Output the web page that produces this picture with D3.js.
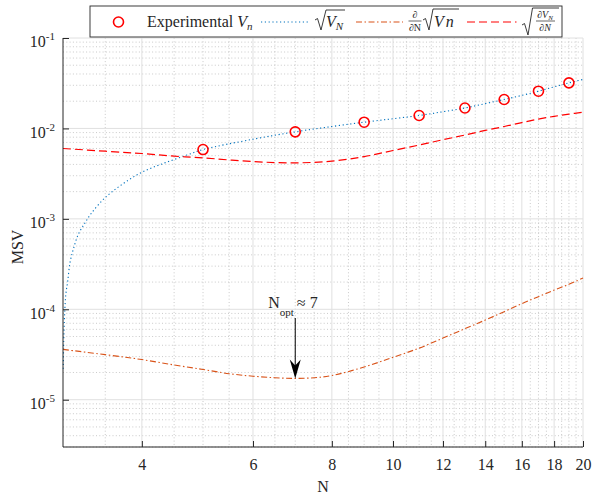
<!DOCTYPE html>
<html>
<head>
<meta charset="utf-8">
<script src="https://cdn.jsdelivr.net/npm/d3@7"></script>
<style>
  body { margin: 0; background: #fff; }
  svg text { font-family: "Liberation Serif", "DejaVu Serif", serif; fill: #262626; }
</style>
</head>
<body>
<div id="container"></div>
<script>
// Experimental points
const expN = [5, 7, 9, 11, 13, 15, 17, 19];
const expV = [5.84e-3, 9.17e-3, 0.01172, 0.0139, 0.01683, 0.0209, 0.0258, 0.0319];

// sqrt(V_N) curve
const sqrtN = [3.003, 3.008, 3.015, 3.022, 3.033, 3.052, 3.077, 3.114, 3.171, 3.251, 3.331, 3.497, 3.717, 4, 4.35, 4.74, 5, 6, 7, 8, 9, 10, 11, 12, 13, 14, 15, 16, 17, 18, 19, 20];
const sqrtV = [2.2e-5, 4.5e-5, 7.5e-5, 1.08e-4, 1.52e-4, 2.04e-4, 3.26e-4, 4.57e-4, 6.7e-4, 9.03e-4, 1.165e-3, 1.71e-3, 2.39e-3, 3.28e-3, 4.16e-3, 5.14e-3, 5.84e-3, 7.6e-3, 9.17e-3, 0.0105, 0.01172, 0.0128, 0.0139, 0.0153, 0.01683, 0.0188, 0.0209, 0.0232, 0.0258, 0.0288, 0.0319, 0.0348];

// d/dN sqrt(Vn) curve
const derN = [3, 3.5, 4, 4.5, 5, 5.5, 6, 6.5, 7, 7.5, 8, 9, 10, 11, 12, 13, 14, 15, 16, 17, 18, 19, 20];
const derV = [3.6e-5, 3.15e-5, 2.78e-5, 2.42e-5, 2.16e-5, 1.94e-5, 1.82e-5, 1.75e-5, 1.72e-5, 1.75e-5, 1.85e-5, 2.3e-5, 2.94e-5, 3.72e-5, 4.8e-5, 6.1e-5, 7.6e-5, 9.4e-5, 1.156e-4, 1.38e-4, 1.63e-4, 1.89e-4, 2.22e-4];

// sqrt(dV_N/dN) curve
const rootN = [3, 3.5, 4, 4.5, 5, 6, 7, 8, 9, 10, 11, 12, 13, 14, 15, 16, 17, 18, 19, 20];
const rootV = [6.0e-3, 5.6e-3, 5.28e-3, 4.93e-3, 4.72e-3, 4.3e-3, 4.16e-3, 4.35e-3, 4.88e-3, 5.7e-3, 6.55e-3, 7.5e-3, 8.45e-3, 9.5e-3, 0.0105, 0.0116, 0.0127, 0.0136, 0.0144, 0.0151];

// ticks
const xMajor = [4, 6, 8, 10, 12, 14, 16, 18, 20];
const xMinor = d3.range(3.5, 20, 0.5).filter(v => !xMajor.includes(v));
const yMajor = [1e-5, 1e-4, 1e-3, 1e-2, 1e-1];
const yMinor = [];
for (let k = -6; k <= -2; k++) {
  for (let m = 2; m <= 9; m++) {
    const v = m * Math.pow(10, k);
    if (v >= 3e-6 && v < 0.1) yMinor.push(v);
  }
}

const width = 592;
const height = 500;
const marginTop = 38;
const marginRight = 9;
const marginBottom = 53;
const marginLeft = 63;

const x = d3.scaleLog().domain([3, 20]).range([marginLeft, width - marginRight]);
const y = d3.scaleLog().domain([3e-6, 0.1]).range([height - marginBottom, marginTop]);

const svg = d3.create("svg").attr("width", width).attr("height", height);

// grid
const grid = svg.append("g");
grid.selectAll(".xminor").data(xMinor).join("line")
  .attr("x1", d => x(d)).attr("x2", d => x(d))
  .attr("y1", marginTop).attr("y2", height - marginBottom)
  .attr("stroke", "#bdbdbd").attr("stroke-width", 0.8).attr("stroke-dasharray", "1 2.3");
grid.selectAll(".yminor").data(yMinor).join("line")
  .attr("y1", d => y(d)).attr("y2", d => y(d))
  .attr("x1", marginLeft).attr("x2", width - marginRight)
  .attr("stroke", "#bdbdbd").attr("stroke-width", 0.8).attr("stroke-dasharray", "1 2.3");
grid.selectAll(".xmajor").data(xMajor).join("line")
  .attr("x1", d => x(d)).attr("x2", d => x(d))
  .attr("y1", marginTop).attr("y2", height - marginBottom)
  .attr("stroke", "#e0e0e0").attr("stroke-width", 1);
grid.selectAll(".ymajor").data(yMajor).join("line")
  .attr("y1", d => y(d)).attr("y2", d => y(d))
  .attr("x1", marginLeft).attr("x2", width - marginRight)
  .attr("stroke", "#e0e0e0").attr("stroke-width", 1);

// curves
const line = d3.line().x(d => x(d[0])).y(d => y(d[1])).curve(d3.curveCatmullRom);

svg.append("path")
  .attr("d", line(sqrtN.map((n, i) => [n, sqrtV[i]])))
  .attr("fill", "none").attr("stroke", "#0072BD").attr("stroke-width", 1.1)
  .attr("stroke-dasharray", "1.2 2.6");

svg.append("path")
  .attr("d", line(derN.map((n, i) => [n, derV[i]])))
  .attr("fill", "none").attr("stroke", "#D95319").attr("stroke-width", 1.1)
  .attr("stroke-dasharray", "6 2.5 1.5 2.5");

svg.append("path")
  .attr("d", line(rootN.map((n, i) => [n, rootV[i]])))
  .attr("fill", "none").attr("stroke", "#ff0000").attr("stroke-width", 1.2)
  .attr("stroke-dasharray", "8 4");

svg.append("g").selectAll("circle").data(expN).join("circle")
  .attr("cx", d => x(d)).attr("cy", (d, i) => y(expV[i])).attr("r", 5)
  .attr("fill", "none").attr("stroke", "#ff0000").attr("stroke-width", 1.6);

// axes
const gx = svg.append("g").attr("transform", `translate(0,${height - marginBottom})`);
gx.call(d3.axisBottom(x).tickValues(xMinor).tickSize(-3).tickSizeOuter(0).tickFormat(""));
gx.call(d3.axisBottom(x).tickValues(xMajor).tickSize(-6).tickSizeOuter(0).tickPadding(12).tickFormat(d3.format("d")));
gx.select(".domain").attr("d", `M${marginLeft},0H${width - marginRight}`);
gx.selectAll("line").attr("stroke", "#262626");
gx.selectAll(".domain").attr("stroke", "#262626");
gx.selectAll(".tick text").attr("font-size", 16).attr("font-family", "Liberation Serif").attr("fill", "#262626");

const gy = svg.append("g").attr("transform", `translate(${marginLeft},0)`);
gy.call(d3.axisLeft(y).tickValues(yMinor).tickSize(-3).tickSizeOuter(0).tickFormat(""));
gy.call(d3.axisLeft(y).tickValues(yMajor).tickSize(-6).tickSizeOuter(0).tickPadding(8).tickFormat(""));
gy.select(".domain").attr("d", `M0,${marginTop}V${height - marginBottom}`);
gy.selectAll("line").attr("stroke", "#262626");
gy.selectAll(".domain").attr("stroke", "#262626");
gy.selectAll(".tick").filter(d => yMajor.includes(d)).select("text").each(function (d) {
  const t = d3.select(this).attr("font-size", 16).attr("font-family", "Liberation Serif")
    .attr("fill", "#262626").attr("dy", "0.55em");
  t.text(null);
  t.append("tspan").text("10");
  t.append("tspan").attr("dy", -7).attr("font-size", 11).text(String(Math.round(Math.log10(d))));
});

// axis labels
svg.append("text").attr("x", (marginLeft + width - marginRight) / 2).attr("y", 492)
  .attr("text-anchor", "middle").attr("font-size", 16).text("N");
svg.append("text").attr("transform", "translate(23,247) rotate(-90)")
  .attr("text-anchor", "middle").attr("font-size", 16).text("MSV");

// annotation
const ax = x(7);
const ay = y(1.72e-5);
const note = svg.append("text").attr("x", ax - 27).attr("y", 308).attr("font-size", 16);
note.append("tspan").text("N");
note.append("tspan").attr("dy", 8).attr("font-size", 11).text("opt");
note.append("tspan").attr("dy", -8).attr("dx", 3).text("\u2248 7");
svg.append("line").attr("x1", ax).attr("x2", ax).attr("y1", 318).attr("y2", ay - 8)
  .attr("stroke", "#000").attr("stroke-width", 1);
svg.append("path")
  .attr("d", `M${ax},${ay} L${ax - 5.5},${ay - 19} L${ax},${ay - 13} L${ax + 5.5},${ay - 19} Z`)
  .attr("fill", "#000");

// legend
const lg = svg.append("g");
lg.append("rect").attr("x", 90).attr("y", 6).attr("width", 472).attr("height", 31)
  .attr("fill", "#fff").attr("stroke", "#262626").attr("stroke-width", 0.9);
lg.append("circle").attr("cx", 118.5).attr("cy", 22).attr("r", 5)
  .attr("fill", "none").attr("stroke", "#ff0000").attr("stroke-width", 1.6);
const t1 = lg.append("text").attr("x", 147).attr("y", 27).attr("font-size", 16);
t1.append("tspan").text("Experimental ");
t1.append("tspan").attr("font-style", "italic").text("V");
t1.append("tspan").attr("font-style", "italic").attr("font-size", 11).attr("dy", 3).text("n");

lg.append("line").attr("x1", 261).attr("x2", 310).attr("y1", 22).attr("y2", 22)
  .attr("stroke", "#0072BD").attr("stroke-width", 1.1).attr("stroke-dasharray", "1.2 2.6");
lg.append("path").attr("d", "M315,20 L317.5,18.5 L321,30 L326,10 L345,10")
  .attr("fill", "none").attr("stroke", "#262626").attr("stroke-width", 0.9);
const t2 = lg.append("text").attr("x", 326).attr("y", 27).attr("font-size", 16).attr("font-style", "italic");
t2.append("tspan").text("V");
t2.append("tspan").attr("font-size", 11).attr("dy", 3).text("N");

lg.append("line").attr("x1", 356).attr("x2", 403).attr("y1", 22).attr("y2", 22)
  .attr("stroke", "#D95319").attr("stroke-width", 1.1).attr("stroke-dasharray", "6 2.5 1.5 2.5");
lg.append("text").attr("x", 415).attr("y", 18).attr("font-size", 10).attr("text-anchor", "middle").text("\u2202");
lg.append("line").attr("x1", 408.5).attr("x2", 421.5).attr("y1", 21).attr("y2", 21)
  .attr("stroke", "#262626").attr("stroke-width", 0.7);
lg.append("text").attr("x", 415).attr("y", 31).attr("font-size", 10).attr("text-anchor", "middle").text("\u2202N");
lg.append("path").attr("d", "M423,20 L425.5,18.5 L429,30 L433,9 L459,9")
  .attr("fill", "none").attr("stroke", "#262626").attr("stroke-width", 0.9);
lg.append("text").attr("x", 434).attr("y", 27).attr("font-size", 16).attr("font-style", "italic")
  .attr("letter-spacing", 2).text("Vn");

lg.append("line").attr("x1", 467).attr("x2", 516.5).attr("y1", 22).attr("y2", 22)
  .attr("stroke", "#ff0000").attr("stroke-width", 1.2).attr("stroke-dasharray", "8 4");
lg.append("path").attr("d", "M522,25 L524.5,23.5 L528,35 L532.5,8 L559,8")
  .attr("fill", "none").attr("stroke", "#262626").attr("stroke-width", 0.9);
const f4 = lg.append("text").attr("x", 545).attr("y", 18).attr("font-size", 10).attr("text-anchor", "middle");
f4.append("tspan").text("\u2202");
f4.append("tspan").attr("font-style", "italic").text("V");
f4.append("tspan").attr("font-style", "italic").attr("font-size", 7).attr("dy", 2).text("N");
lg.append("line").attr("x1", 536).attr("x2", 555).attr("y1", 21).attr("y2", 21)
  .attr("stroke", "#262626").attr("stroke-width", 0.7);
lg.append("text").attr("x", 545).attr("y", 31).attr("font-size", 10).attr("text-anchor", "middle")
  .attr("font-style", "italic").text("\u2202N");

document.getElementById("container").append(svg.node());
</script>
</body>
</html>
